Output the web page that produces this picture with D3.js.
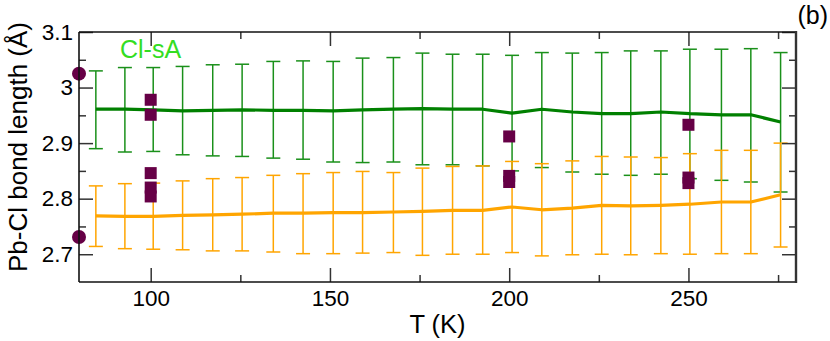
<!DOCTYPE html>
<html>
<head>
<meta charset="utf-8">
<script src="https://cdn.jsdelivr.net/npm/d3@7"></script>
<style>
  html, body { margin: 0; padding: 0; background: #fff; }
  svg { display: block; font-family: "Liberation Sans", Arial, Helvetica, sans-serif; }
</style>
</head>
<body>
<svg id="chart" width="830" height="341"></svg>
<script>
// ---------- data ----------
const temperatures = [84.7, 92.8, 100.7, 108.9, 117.3, 125.5, 134.2, 142.5, 150.9, 159.1, 167.7, 175.8,
                      184.2, 192.6, 200.8, 209.1, 217.6, 225.8, 233.9, 242.3, 250.4, 259.2, 267.4, 275.7];

const sAMean  = [2.961, 2.961, 2.960, 2.958, 2.959, 2.960, 2.959, 2.959, 2.958, 2.960, 2.961, 2.962,
                 2.961, 2.961, 2.954, 2.961, 2.956, 2.953, 2.953, 2.956, 2.953, 2.951, 2.951, 2.938];
const sAUpper = [3.030, 3.036, 3.036, 3.038, 3.041, 3.042, 3.047, 3.048, 3.047, 3.053, 3.054, 3.062,
                 3.060, 3.060, 3.058, 3.063, 3.062, 3.063, 3.066, 3.066, 3.069, 3.069, 3.070, 3.063];
const sALower = [2.890, 2.884, 2.885, 2.879, 2.877, 2.876, 2.873, 2.871, 2.866, 2.865, 2.866, 2.861,
                 2.861, 2.859, 2.850, 2.856, 2.848, 2.844, 2.842, 2.844, 2.836, 2.833, 2.830, 2.812];

const sBMean  = [2.769, 2.768, 2.768, 2.770, 2.771, 2.772, 2.774, 2.774, 2.775, 2.775, 2.776, 2.777,
                 2.779, 2.779, 2.785, 2.780, 2.783, 2.788, 2.787, 2.788, 2.790, 2.794, 2.794, 2.807];
const sBUpper = [2.823, 2.827, 2.828, 2.832, 2.836, 2.838, 2.842, 2.845, 2.847, 2.849, 2.847, 2.855,
                 2.858, 2.859, 2.867, 2.863, 2.868, 2.876, 2.875, 2.874, 2.881, 2.887, 2.887, 2.900];
const sBLower = [2.714, 2.710, 2.709, 2.708, 2.706, 2.706, 2.704, 2.701, 2.701, 2.702, 2.703, 2.698,
                 2.700, 2.700, 2.703, 2.697, 2.699, 2.700, 2.699, 2.701, 2.700, 2.701, 2.701, 2.713];

// reference points (circles and squares)
const circleT = [80, 80];
const circleV = [3.025, 2.731];
const squareT = [100, 100, 100, 100, 100, 200, 200, 200, 250, 250, 250];
const squareV = [2.978, 2.951, 2.846, 2.820, 2.804, 2.912, 2.841, 2.830, 2.933, 2.838, 2.828];

const xMajorTicks = [100, 150, 200, 250];
const xMinorTicks = [125, 175, 225, 275];
const yMajorTicks = [2.7, 2.8, 2.9, 3.0, 3.1];
const yMinorTicks = [2.75, 2.85, 2.95, 3.05];
const yTickLabels = ["2.7", "2.8", "2.9", "3", "3.1"];

const legendLabel = "Cl-sA";
const panelLabel = "(b)";
const xTitle = "T (K)";
const yTitle = "Pb-Cl bond length (Å)";

// ---------- layout ----------
const L = 79, R = 796, T = 32, B = 282;
const svg = d3.select("#chart");

const x = d3.scaleLinear().domain([80, 280]).range([L, R]);
const y = d3.scaleLinear().domain([2.65, 3.1]).range([B, T]);

const tickColor = "#333";

// error bars
function errorBars(upper, lower, color) {
  const g = svg.append("g").attr("stroke", color).attr("stroke-width", 1.5).attr("fill", "none");
  temperatures.forEach((t, i) => {
    const cx = x(t), hw = 7;
    g.append("line").attr("x1", cx).attr("x2", cx).attr("y1", y(upper[i])).attr("y2", y(lower[i]));
    g.append("line").attr("x1", cx - hw).attr("x2", cx + hw).attr("y1", y(upper[i])).attr("y2", y(upper[i]));
    g.append("line").attr("x1", cx - hw).attr("x2", cx + hw).attr("y1", y(lower[i])).attr("y2", y(lower[i]));
  });
}
errorBars(sAUpper, sALower, "#1a901a");
errorBars(sBUpper, sBLower, "#ffa500");

const line = d3.line().x((d, i) => x(temperatures[i])).y(d => y(d));
svg.append("path").datum(sAMean).attr("d", line).attr("fill", "none")
  .attr("stroke", "#008000").attr("stroke-width", 3.2).attr("stroke-linejoin", "round");
svg.append("path").datum(sBMean).attr("d", line).attr("fill", "none")
  .attr("stroke", "#ffa500").attr("stroke-width", 3.2).attr("stroke-linejoin", "round");

// markers
const maroon = "#660046";
svg.append("g").selectAll("circle").data(circleV).join("circle")
  .attr("cx", (d, i) => x(circleT[i])).attr("cy", d => y(d)).attr("r", 7).attr("fill", maroon);
svg.append("g").selectAll("rect").data(squareV).join("rect")
  .attr("x", (d, i) => x(squareT[i]) - 6).attr("y", d => y(d) - 6)
  .attr("width", 12).attr("height", 12).attr("fill", maroon);

// axes
function styleAxis(g) {
  g.select(".domain").remove();
  g.selectAll(".tick line").attr("stroke", tickColor).attr("stroke-width", 1.5);
  g.selectAll(".tick text").attr("fill", "#000").style("font-size", "22.5px")
    .style("font-family", "'Liberation Sans', Arial, sans-serif");
}
// bottom
svg.append("g").attr("transform", `translate(0,${B})`)
  .call(d3.axisBottom(x).tickValues(xMajorTicks).tickSize(-14).tickPadding(8).tickFormat(d3.format("d")))
  .call(styleAxis);
svg.append("g").attr("transform", `translate(0,${B})`)
  .call(d3.axisBottom(x).tickValues(xMinorTicks).tickSize(-7).tickFormat(""))
  .call(styleAxis);
// top
svg.append("g").attr("transform", `translate(0,${T})`)
  .call(d3.axisTop(x).tickValues(xMajorTicks).tickSize(-14).tickFormat(""))
  .call(styleAxis);
svg.append("g").attr("transform", `translate(0,${T})`)
  .call(d3.axisTop(x).tickValues(xMinorTicks).tickSize(-7).tickFormat(""))
  .call(styleAxis);
// left
svg.append("g").attr("transform", `translate(${L},0)`)
  .call(d3.axisLeft(y).tickValues(yMajorTicks).tickSize(-14).tickPadding(6)
    .tickFormat((d, i) => yTickLabels[i]))
  .call(styleAxis);
svg.append("g").attr("transform", `translate(${L},0)`)
  .call(d3.axisLeft(y).tickValues(yMinorTicks).tickSize(-7).tickFormat(""))
  .call(styleAxis);
// right
svg.append("g").attr("transform", `translate(${R},0)`)
  .call(d3.axisRight(y).tickValues(yMajorTicks).tickSize(-14).tickFormat(""))
  .call(styleAxis);
svg.append("g").attr("transform", `translate(${R},0)`)
  .call(d3.axisRight(y).tickValues(yMinorTicks).tickSize(-7).tickFormat(""))
  .call(styleAxis);

// frame
svg.append("path").attr("d", `M${L},${T}H${R}`).attr("stroke", "#111").attr("stroke-width", 1.6);
svg.append("path").attr("d", `M${L},${B}H${R}`).attr("stroke", "#111").attr("stroke-width", 1.6);
svg.append("path").attr("d", `M${L},${T}V${B}`).attr("stroke", "#111").attr("stroke-width", 1.6);
svg.append("path").attr("d", `M${R},${T - 1}V${B + 1}`).attr("stroke", "#333").attr("stroke-width", 2.4);

// texts
svg.append("text").attr("x", 120).attr("y", 58).attr("fill", "#33dd22")
  .style("font-size", "25px").text(legendLabel);
svg.append("text").attr("x", 828).attr("y", 24).attr("text-anchor", "end")
  .style("font-size", "25px").text(panelLabel);
svg.append("text").attr("x", (L + R) / 2).attr("y", 333).attr("text-anchor", "middle")
  .style("font-size", "25.5px").text(xTitle);
svg.append("text").attr("transform", `translate(27,147) rotate(-90)`).attr("text-anchor", "middle")
  .style("font-size", "26px").text(yTitle);
</script>
</body>
</html>
